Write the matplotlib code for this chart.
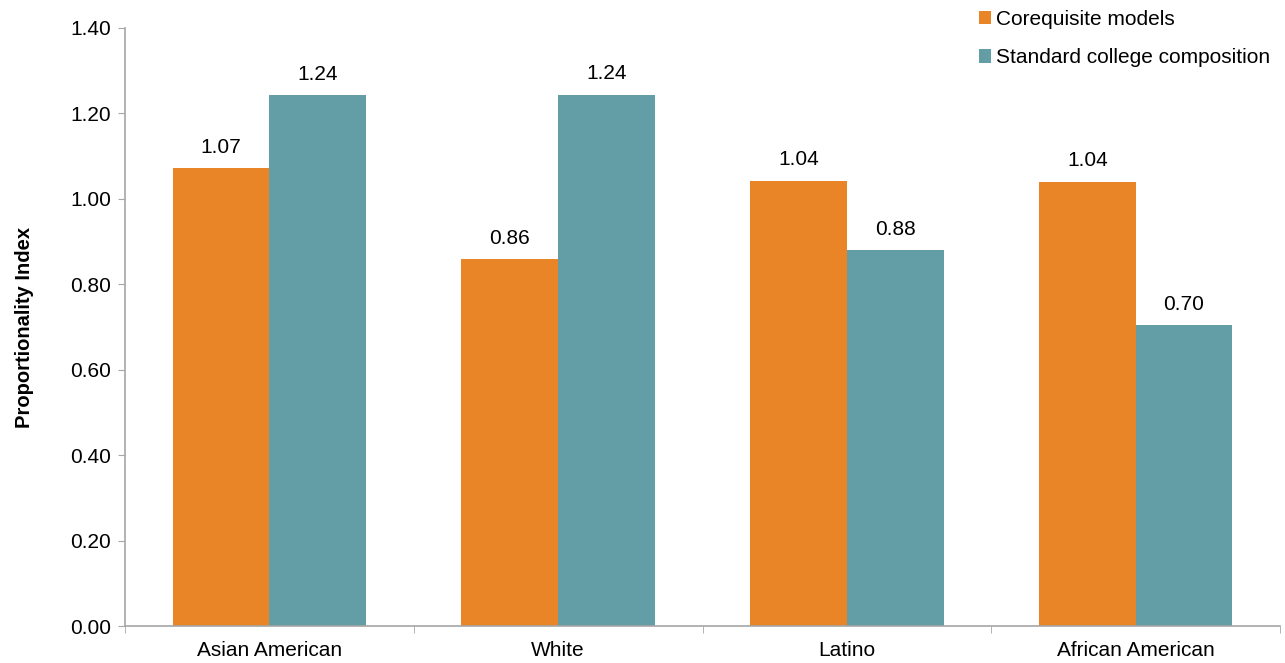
import numpy as np
import matplotlib.pyplot as plt

plt.rcParams['font.family'] = ['Liberation Sans', 'DejaVu Sans']

# data
categories = ['Asian American', 'White', 'Latino', 'African American']
coreq = [1.072, 0.859, 1.042, 1.040]
standard = [1.243, 1.244, 0.880, 0.704]
series_names = ['Corequisite models', 'Standard college composition']
colors = ['#E98427', '#639EA6']

fs = 15

fig = plt.figure(figsize=(12.85, 6.63), dpi=100)
ax = fig.add_axes([0.0973, 0.0558, 0.8988, 0.902])

x = np.arange(len(categories))
w = 0.335
b1 = ax.bar(x - w / 2, coreq, w, color=colors[0], label=series_names[0])
b2 = ax.bar(x + w / 2, standard, w, color=colors[1], label=series_names[1])

for bars, vals in [(b1, coreq), (b2, standard)]:
    for r, v in zip(bars, vals):
        ax.text(r.get_x() + r.get_width() / 2, v + 0.027, f'{v:.2f}',
                ha='center', va='bottom', fontsize=fs)

ax.set_xlim(-0.5, len(categories) - 0.5)
ax.set_ylim(0, 1.4)
ax.set_yticks(np.arange(0, 1.41, 0.2))
ax.set_yticklabels([f'{t:.2f}' for t in np.arange(0, 1.41, 0.2)], fontsize=fs)
ax.set_xticks(x)
ax.set_xticklabels(categories, fontsize=fs)
ax.set_xticks(np.arange(-0.5, len(categories), 1), minor=True)
ax.tick_params(axis='x', which='major', length=0, pad=11)
ax.tick_params(axis='x', which='minor', length=5, color='#A6A6A6')
ax.tick_params(axis='y', length=5, color='#A6A6A6', pad=5)

for s in ['top', 'right']:
    ax.spines[s].set_visible(False)
for s in ['left', 'bottom']:
    ax.spines[s].set_color('#A6A6A6')
    ax.spines[s].set_linewidth(1.2)

ax.set_ylabel('Proportionality Index', fontsize=fs - 0.5, fontweight='bold', labelpad=26)

ax.legend(loc='upper right', bbox_to_anchor=(1.008, 1.062), frameon=False,
          fontsize=fs, handlelength=0.6, handleheight=0.6, handletextpad=0.25,
          labelspacing=0.95)

fig.savefig('out.png', dpi=100)
